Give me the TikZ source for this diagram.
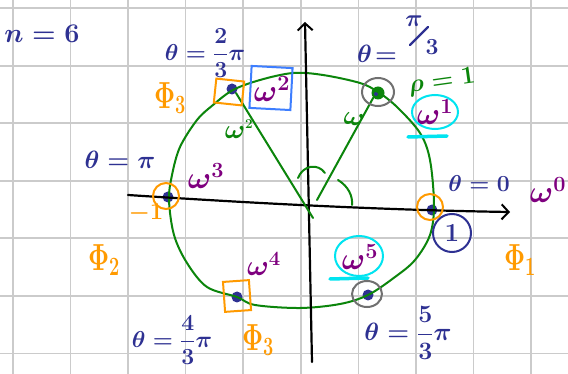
\RequirePackage{fix-cm}
\documentclass[tikz,border=0pt]{standalone}
\usepackage{amsmath}
\usetikzlibrary{arrows.meta,shapes.geometric}
\definecolor{hblue}{HTML}{2E3192}
\definecolor{hpurple}{HTML}{7F007F}
\definecolor{horange}{HTML}{FF9A00}
\definecolor{hgreen}{HTML}{0B850B}
\definecolor{hcyan}{HTML}{00E4F0}
\definecolor{hgray}{HTML}{707070}
\definecolor{hsq}{HTML}{3D7EFF}
\definecolor{hgrid}{HTML}{CBCBCB}
\newcommand\myfs[1]{\fontsize{#1}{#1}\selectfont\boldmath}
\newcommand\tallphi[1]{\scalebox{1}[1.45]{$\Phi_{#1}$}}
\begin{document}
\begin{tikzpicture}[x=1pt,y=-1pt,
  gridline/.style={draw=hgrid,line width=1.6pt},
  axis/.style={draw=black,line width=2.2pt,line cap=round,-{Straight Barb[length=7pt,width=15pt,line width=2pt]}},
  gline/.style={draw=hgreen,line width=2pt,line cap=round},
  dot/.style={circle,fill=hblue,inner sep=0pt,minimum size=11pt},
  tb/.style={text=hblue,inner sep=0pt},
  tp/.style={text=hpurple,inner sep=0pt},
  to/.style={text=horange,inner sep=0pt},
  tg/.style={text=hgreen,inner sep=0pt},
  osq/.style={draw=horange,line width=2pt,minimum width=28pt,minimum height=24pt,inner sep=0pt},
  ocirc/.style={draw=horange,line width=2pt,circle,minimum size=26pt,inner sep=0pt},
  gcirc/.style={draw=hgray,line width=2pt,ellipse,minimum width=32pt,minimum height=28pt,inner sep=0pt},
  ccirc/.style={draw=hcyan,line width=2pt,ellipse,inner sep=0pt},
  uline/.style={draw=hcyan,line width=3.5pt,line cap=round}
]
\useasboundingbox (0,0) rectangle (568,374);
\fill[white] (0,0) rectangle (568,374);
% grid
\foreach \i in {0,...,9} \draw[gridline] (12.7+57.6*\i,0) -- (12.7+57.6*\i,374);
\foreach \j in {0,...,6} \draw[gridline] (0,8.3+57.5*\j) -- (568,8.3+57.5*\j);

% points
\coordinate (O) at (310,206);
\node[dot] (w0) at (432,210) {};
\node[circle,fill=hgreen,inner sep=0pt,minimum size=13pt] (w1) at (378,93) {};
\node[circle,fill=hblue,inner sep=0pt,minimum size=4pt] (w1in) at (376,94) {};
\node[dot] (w2) at (232,89) {};
\node[dot] (w3) at (168,197) {};
\node[dot] (w4) at (237,297) {};
\node[dot] (w5) at (368,295) {};

% green circle
\draw[gline] plot[smooth cycle,tension=0.55] coordinates {
 (434,205) (430,235) (415,260) (395,277) (368,295) (340,304) (300,308) (255,305)
 (237,297) (207,287) (187,263) (174,235) (169,200) (172,175) (180,147) (197,120)
 (213,105) (233,90) (260,80) (293,73) (323,75) (360,83) (378,92) (397,107)
 (420,133) (430,160)};

% axes
\coordinate (xa) at (128,195);
\coordinate (xb) at (510,212);
\coordinate (ya) at (312,362);
\coordinate (yb) at (305,22);
\draw[axis] (xa) .. controls (250,203) and (380,210) .. (xb);
\draw[axis] (ya) -- (yb);

% rays and angle arcs
\coordinate (r2s) at (313,218);
\coordinate (r1s) at (317,200);
\draw[gline] (r2s) -- (w2.south east);
\draw[gline] (r1s) -- (w1.south west);
\coordinate (a1s) at (298,178);
\coordinate (a1e) at (325,173);
\draw[gline] (a1s) .. controls (303,165) and (318,163) .. (a1e);
\coordinate (a2s) at (338,180);
\coordinate (a2e) at (352,205);
\draw[gline] (a2s) .. controls (348,186) and (353,196) .. (a2e);

% markers around points
\node[ocirc] (m0) at (430,207) {};
\node[gcirc] (m1) at (378,92) {};
\node[osq,rotate=-6] (m2) at (229,92) {};
\node[ocirc] (m3) at (166,196) {};
\node[osq,minimum width=26pt,minimum height=30pt,rotate=4] (m4) at (237,296) {};
\node[gcirc,minimum width=30pt,minimum height=26pt] (m5) at (367,294) {};

% labels
\node[tb,font=\myfs{27}] (n6) at (42,34) {$n=6$};
\node[tb,font=\myfs{23}] (t2) at (205,53) {$\theta=\dfrac{2}{3}\pi$};
\node[tb,font=\myfs{25}] (t3) at (120,160) {$\theta=\pi$};
\node[tb,font=\myfs{23}] (t4) at (172,340) {$\theta=\dfrac{4}{3}\pi$};
\node[tb,font=\myfs{25}] (t5) at (408,333) {$\theta=\dfrac{5}{3}\pi$};
\node[tb,font=\myfs{23}] (t0) at (479,184) {$\theta=0$};
\node[tb,font=\myfs{25}] (t1a) at (377,54) {$\theta\!=$};
\node[tb,font=\myfs{24}] (t1b) at (414,21) {$\pi$};
\node[tb,font=\myfs{23}] (t1c) at (432,47) {$3$};
\coordinate (sl1) at (428,27);
\coordinate (sl2) at (410,45);
\draw[draw=hblue,line width=2.2pt,line cap=round] (sl1) -- (sl2);

\node[tg,font=\myfs{25},rotate=8] (rho) at (442,82) {$\rho=1$};
\node[tg,font=\myfs{27}] (gw2) at (239,129) {$\omega^{\scriptscriptstyle 2}$};
\node[tg,font=\myfs{27},rotate=-10] (gw1) at (354,119) {$\omega$};

% purple omegas
\node[tp,font=\myfs{31}] (o2) at (272,89) {$\omega^2$};
\node[draw=hsq,line width=2pt,minimum width=41pt,minimum height=42pt,rotate=-3] (o2box) at (271,88) {};
\node[tp,font=\myfs{31}] (o1) at (435,112) {$\omega^1$};
\node[ccirc,minimum width=46pt,minimum height=34pt] (o1c) at (435,112) {};
\coordinate (u1a) at (408,137);
\coordinate (u1b) at (447,136);
\draw[uline] (u1a) -- (u1b);
\node[tp,font=\myfs{31}] (o0) at (548,190) {$\omega^0$};
\node[tp,font=\myfs{31}] (o3) at (206,176) {$\omega^3$};
\node[tp,font=\myfs{29}] (o4) at (264,264) {$\omega^4$};
\node[tp,font=\myfs{31}] (o5) at (360,257) {$\omega^5$};
\node[ccirc,minimum width=48pt,minimum height=40pt] (o5c) at (359,256) {};
\coordinate (u5a) at (330,279);
\coordinate (u5b) at (368,278);
\draw[uline] (u5a) -- (u5b);

% circled one
\node[tb,font=\myfs{26},draw=hblue,line width=2pt,circle,minimum size=38pt] (one) at (452,233) {$1$};

% Phi labels
\node[to,font=\myfs{26}] (p1) at (520,260) {\tallphi{1}};
\node[to,font=\myfs{26}] (p2) at (104,260) {\tallphi{2}};
\node[to,font=\myfs{26}] (p3a) at (170,98) {\tallphi{3}};
\node[to,font=\myfs{26}] (p3b) at (258,340) {\tallphi{3}};
\node[to,font=\myfs{24}] (m1l) at (146,213) {$-1$};
\end{tikzpicture}
\end{document}
